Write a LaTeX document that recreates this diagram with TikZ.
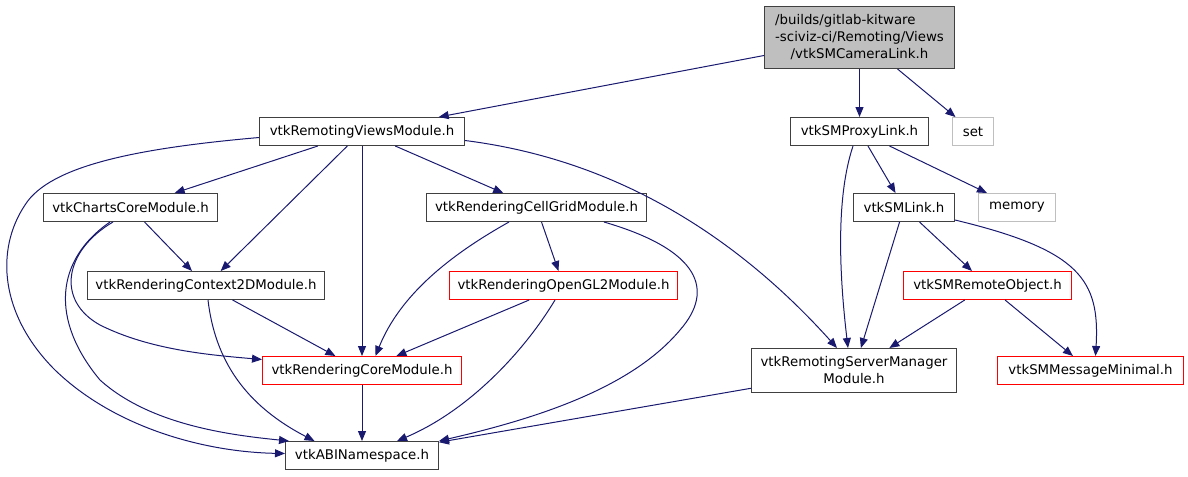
\documentclass[tikz,border=0pt]{standalone}
\usepackage{fontspec}
\setmainfont{DejaVu Sans}
\usepackage{tikz}
\usetikzlibrary{arrows.meta,calc}

\definecolor{edgeblue}{HTML}{191970}
\definecolor{boxgray}{HTML}{BFBFBF}
\definecolor{boxline}{HTML}{404040}
\definecolor{boxred}{HTML}{FF0000}

\tikzset{
  hbox/.style={line width=0.75pt,inner sep=0pt,align=center,
    font=\fontsize{10}{12.75}\selectfont},
  inc/.style={edgeblue,line width=0.75pt,-{Triangle[length=7.5pt,width=6pt]}}
}

\begin{document}
\begin{tikzpicture}[x=0.75pt,y=-0.75pt]
\useasboundingbox (0,0) rectangle (1188,476);

\node[hbox,draw=boxline,fill=boxgray,minimum width=190*0.75pt,minimum height=62*0.75pt] (root) at (859.5,37.5)
  {\rlap{/builds/gitlab-kitware}\phantom{-sciviz-ci/Remoting/Views}\\-sciviz-ci/Remoting/Views\\/vtkSMCameraLink.h};

\foreach \n/\c/\x/\y/\w/\h/\txt in {
  rv/boxline/362/131.5/205/28/vtkRemotingViewsModule.h,
  pl/boxline/859.5/131.5/138/28/vtkSMProxyLink.h,
  set/boxgray/973/131.5/41/28/set,
  cc/boxline/130.5/207.5/174/28/vtkChartsCoreModule.h,
  cg/boxline/536.5/207.5/220/28/vtkRenderingCellGridModule.h,
  sml/boxline/904/207.5/101/28/vtkSMLink.h,
  mem/boxgray/1017/207.5/77/28/memory,
  c2d/boxline/206/285.5/237/28/vtkRenderingContext2DModule.h,
  gl2/boxred/563.5/285.5/228/28/vtkRenderingOpenGL2Module.h,
  ro/boxred/987.5/285.5/168/28/vtkSMRemoteObject.h,
  rc/boxred/362/370.5/199/28/vtkRenderingCoreModule.h,
  sm/boxline/854/370.5/205/44/{vtkRemotingServerManager\\Module.h},
  mm/boxred/1090.5/370.5/186/28/vtkSMMessageMinimal.h,
  abi/boxline/362/455.5/153/28/vtkABINamespace.h}
  \node[hbox,draw=\c,minimum width=\w*0.75pt,minimum height=\h*0.75pt] (\n) at (\x,\y) {\txt};

% straight includes
\foreach \a/\b in {root/rv,root/pl,root/set,rv/cc,rv/c2d,rv/rc,rv/cg,cc/c2d,
  cg/gl2,c2d/rc,gl2/rc,rc/abi,pl/sml,pl/mem,sml/ro,ro/mm,ro/sm,sml/sm,sm/abi}
  \draw[inc] (\a) -- (\b);

% curved includes
\draw[inc] ($(rv.west)+(0,6)$) .. controls (140,148) and (50,165) .. (25,205)
  .. controls (-5,250) and (0,315) .. (55,370)
  .. controls (115,428) and (205,452) .. ($(abi.west)+(0,-2)$);
\draw[inc] ($(cc.south west)+(67,0)$) .. controls (55,260) and (50,320) .. (100,380)
  .. controls (150,425) and (230,435) .. ($(abi.north west)+(4,0)$);
\draw[inc] ($(cc.south west)+(70,0)$) .. controls (65,250) and (55,300) .. (100,325)
  .. controls (150,350) and (210,355) .. ($(rc.west)+(0,-11)$);
\draw[inc] ($(c2d.south west)+(121,0)$) .. controls (215,360) and (245,405) .. ($(abi.north west)+(29.5,0)$);
\draw[inc] ($(cg.south west)+(83,0)$) .. controls (450,255) and (400,295) .. ($(rc.north)+(13.5,0)$);
\draw[inc] ($(cg.south west)+(178,0)$) .. controls (700,250) and (715,290) .. (680,330)
  .. controls (630,390) and (530,420) .. (abi.north east);
\draw[inc] ($(gl2.south west)+(106,0)$) .. controls (525,350) and (470,410) .. ($(abi.north east)+(-42,0)$);
\draw[inc] ($(rv.east)+(0,9)$) .. controls (620,160) and (740,240) .. ($(sm.north)+(-17,0)$);
\draw[inc] ($(pl.south)+(-6.5,0)$) .. controls (835,200) and (840,280) .. ($(sm.north)+(-6,0)$);
\draw[inc] ($(sml.south east)+(0,-2)$) .. controls (1080,250) and (1100,280) .. ($(mm.north)+(5,0)$);
\end{tikzpicture}
\end{document}
